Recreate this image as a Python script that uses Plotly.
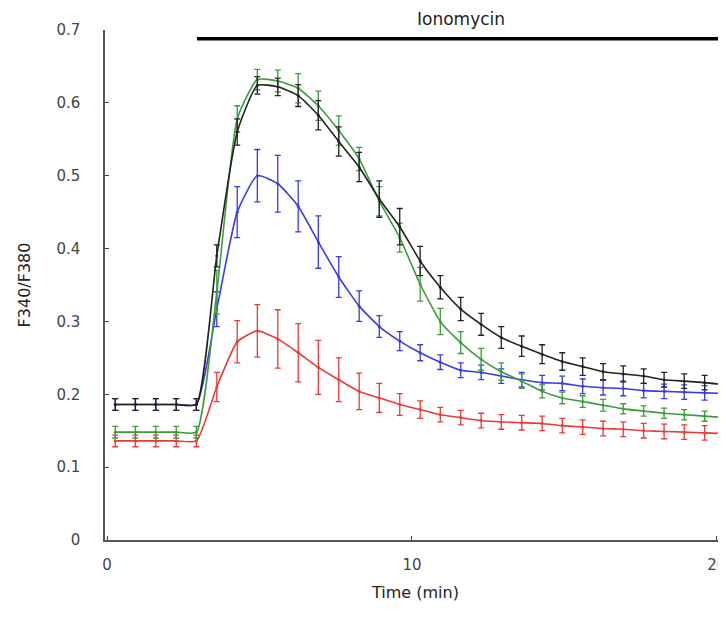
import plotly.graph_objects as go

time_min = [0.27, 0.93, 1.6, 2.27, 2.93, 3.6, 4.27, 4.93, 5.6, 6.27, 6.93, 7.6, 8.27, 8.93, 9.6,
            10.27, 10.93, 11.6, 12.27, 12.93, 13.6, 14.27, 14.93, 15.6, 16.27, 16.93, 17.6,
            18.27, 18.93, 19.6, 20.27]

black_vals = [0.186, 0.186, 0.186, 0.186, 0.186, 0.39, 0.56, 0.624, 0.622, 0.61, 0.583, 0.547,
              0.512, 0.468, 0.43, 0.383, 0.347, 0.317, 0.296, 0.278, 0.266, 0.255, 0.245, 0.238,
              0.231, 0.228, 0.225, 0.22, 0.218, 0.216, 0.213]
black_err = [0.008, 0.008, 0.008, 0.008, 0.008, 0.015, 0.018, 0.012, 0.012, 0.015, 0.02, 0.02,
             0.02, 0.025, 0.025, 0.02, 0.016, 0.016, 0.015, 0.015, 0.014, 0.013, 0.012, 0.012,
             0.011, 0.011, 0.01, 0.01, 0.01, 0.01, 0.01]

green_vals = [0.148, 0.148, 0.148, 0.148, 0.148, 0.34, 0.578, 0.632, 0.63, 0.62, 0.596, 0.562,
              0.523, 0.465, 0.415, 0.351, 0.30, 0.271, 0.248, 0.231, 0.218, 0.204, 0.195, 0.19,
              0.185, 0.18, 0.177, 0.174, 0.172, 0.17, 0.168]
green_err = [0.008, 0.008, 0.008, 0.008, 0.008, 0.03, 0.018, 0.014, 0.015, 0.02, 0.02, 0.02,
             0.016, 0.02, 0.02, 0.023, 0.018, 0.015, 0.015, 0.012, 0.01, 0.009, 0.008, 0.008,
             0.008, 0.007, 0.007, 0.007, 0.007, 0.007, 0.007]

blue_vals = [0.186, 0.186, 0.186, 0.186, 0.186, 0.317, 0.45, 0.50, 0.489, 0.458, 0.409, 0.361,
             0.321, 0.293, 0.273, 0.257, 0.244, 0.233, 0.23, 0.225, 0.22, 0.216, 0.215, 0.211,
             0.209, 0.208, 0.205, 0.204, 0.203, 0.202, 0.201]
blue_err = [0.008, 0.008, 0.008, 0.008, 0.008, 0.024, 0.035, 0.036, 0.039, 0.035, 0.036, 0.028,
            0.021, 0.015, 0.013, 0.011, 0.01, 0.01, 0.01, 0.01, 0.01, 0.01, 0.01, 0.01, 0.01,
            0.01, 0.01, 0.01, 0.01, 0.01, 0.01]

red_vals = [0.136, 0.136, 0.136, 0.136, 0.136, 0.21, 0.272, 0.287, 0.276, 0.257, 0.237, 0.22,
            0.204, 0.195, 0.186, 0.179, 0.172, 0.168, 0.164, 0.162, 0.161, 0.16, 0.157, 0.155,
            0.153, 0.152, 0.15, 0.149, 0.148, 0.147, 0.146]
red_err = [0.008, 0.008, 0.008, 0.008, 0.008, 0.02, 0.029, 0.036, 0.04, 0.04, 0.037, 0.03,
           0.025, 0.02, 0.015, 0.012, 0.01, 0.01, 0.01, 0.01, 0.01, 0.01, 0.01, 0.01, 0.01,
           0.01, 0.01, 0.01, 0.01, 0.01, 0.01]

series = [
    ("Red", red_vals, red_err, "#ec3a3a"),
    ("Blue", blue_vals, blue_err, "#3a3ae6"),
    ("Green", green_vals, green_err, "#3c9c3c"),
    ("Black", black_vals, black_err, "#222222"),
]

iono_start = 2.95
iono_level = 0.688
iono_label = "Ionomycin"

FONT = "DejaVu Sans, Liberation Sans, Arial, sans-serif"

fig = go.Figure()
for name, vals, err, col in series:
    fig.add_trace(go.Scatter(
        x=time_min, y=vals, name=name, mode="lines+markers",
        line=dict(color=col, width=1.6, shape="spline", smoothing=0.5),
        marker=dict(color=col, size=3),
        error_y=dict(type="data", array=err, visible=True, color=col, thickness=1.3, width=3),
        showlegend=False,
    ))

fig.add_shape(type="line", xref="x", yref="y", x0=iono_start, x1=21, y0=iono_level, y1=iono_level,
              line=dict(color="black", width=3.5))
fig.add_annotation(x=11.6, y=1.022, xref="x", yref="paper", text=iono_label, showarrow=False,
                   font=dict(family=FONT, size=17, color="#222"), yanchor="middle")

fig.update_layout(
    width=718, height=610,
    margin=dict(l=97, r=0, t=22, b=78, autoexpand=False),
    plot_bgcolor="white", paper_bgcolor="white",
    font=dict(family=FONT, size=15, color="#444"),
    xaxis=dict(range=[-0.066, 20.3], tickvals=[0, 10, 20], ticks="inside", ticklen=4,
               showline=True, linecolor="#555", linewidth=1.5, showgrid=False, zeroline=False,
               automargin=False, ticklabeloverflow="allow",
               title=dict(text="Time (min)", font=dict(family=FONT, size=16, color="#222"), standoff=14),
               ticklabelstandoff=10),
    yaxis=dict(range=[0, 0.7], tickvals=[0, 0.1, 0.2, 0.3, 0.4, 0.5, 0.6, 0.7],
               ticktext=["0", "0.1", "0.2", "0.3", "0.4", "0.5", "0.6", "0.7"],
               ticks="inside", ticklen=4, showline=True, linecolor="#555", linewidth=1.5,
               showgrid=False, zeroline=False, ticklabelstandoff=20, automargin=False,
               title=dict(text="F340/F380", font=dict(family=FONT, size=16, color="#222"), standoff=22)),
)

fig.write_html("out.html")
